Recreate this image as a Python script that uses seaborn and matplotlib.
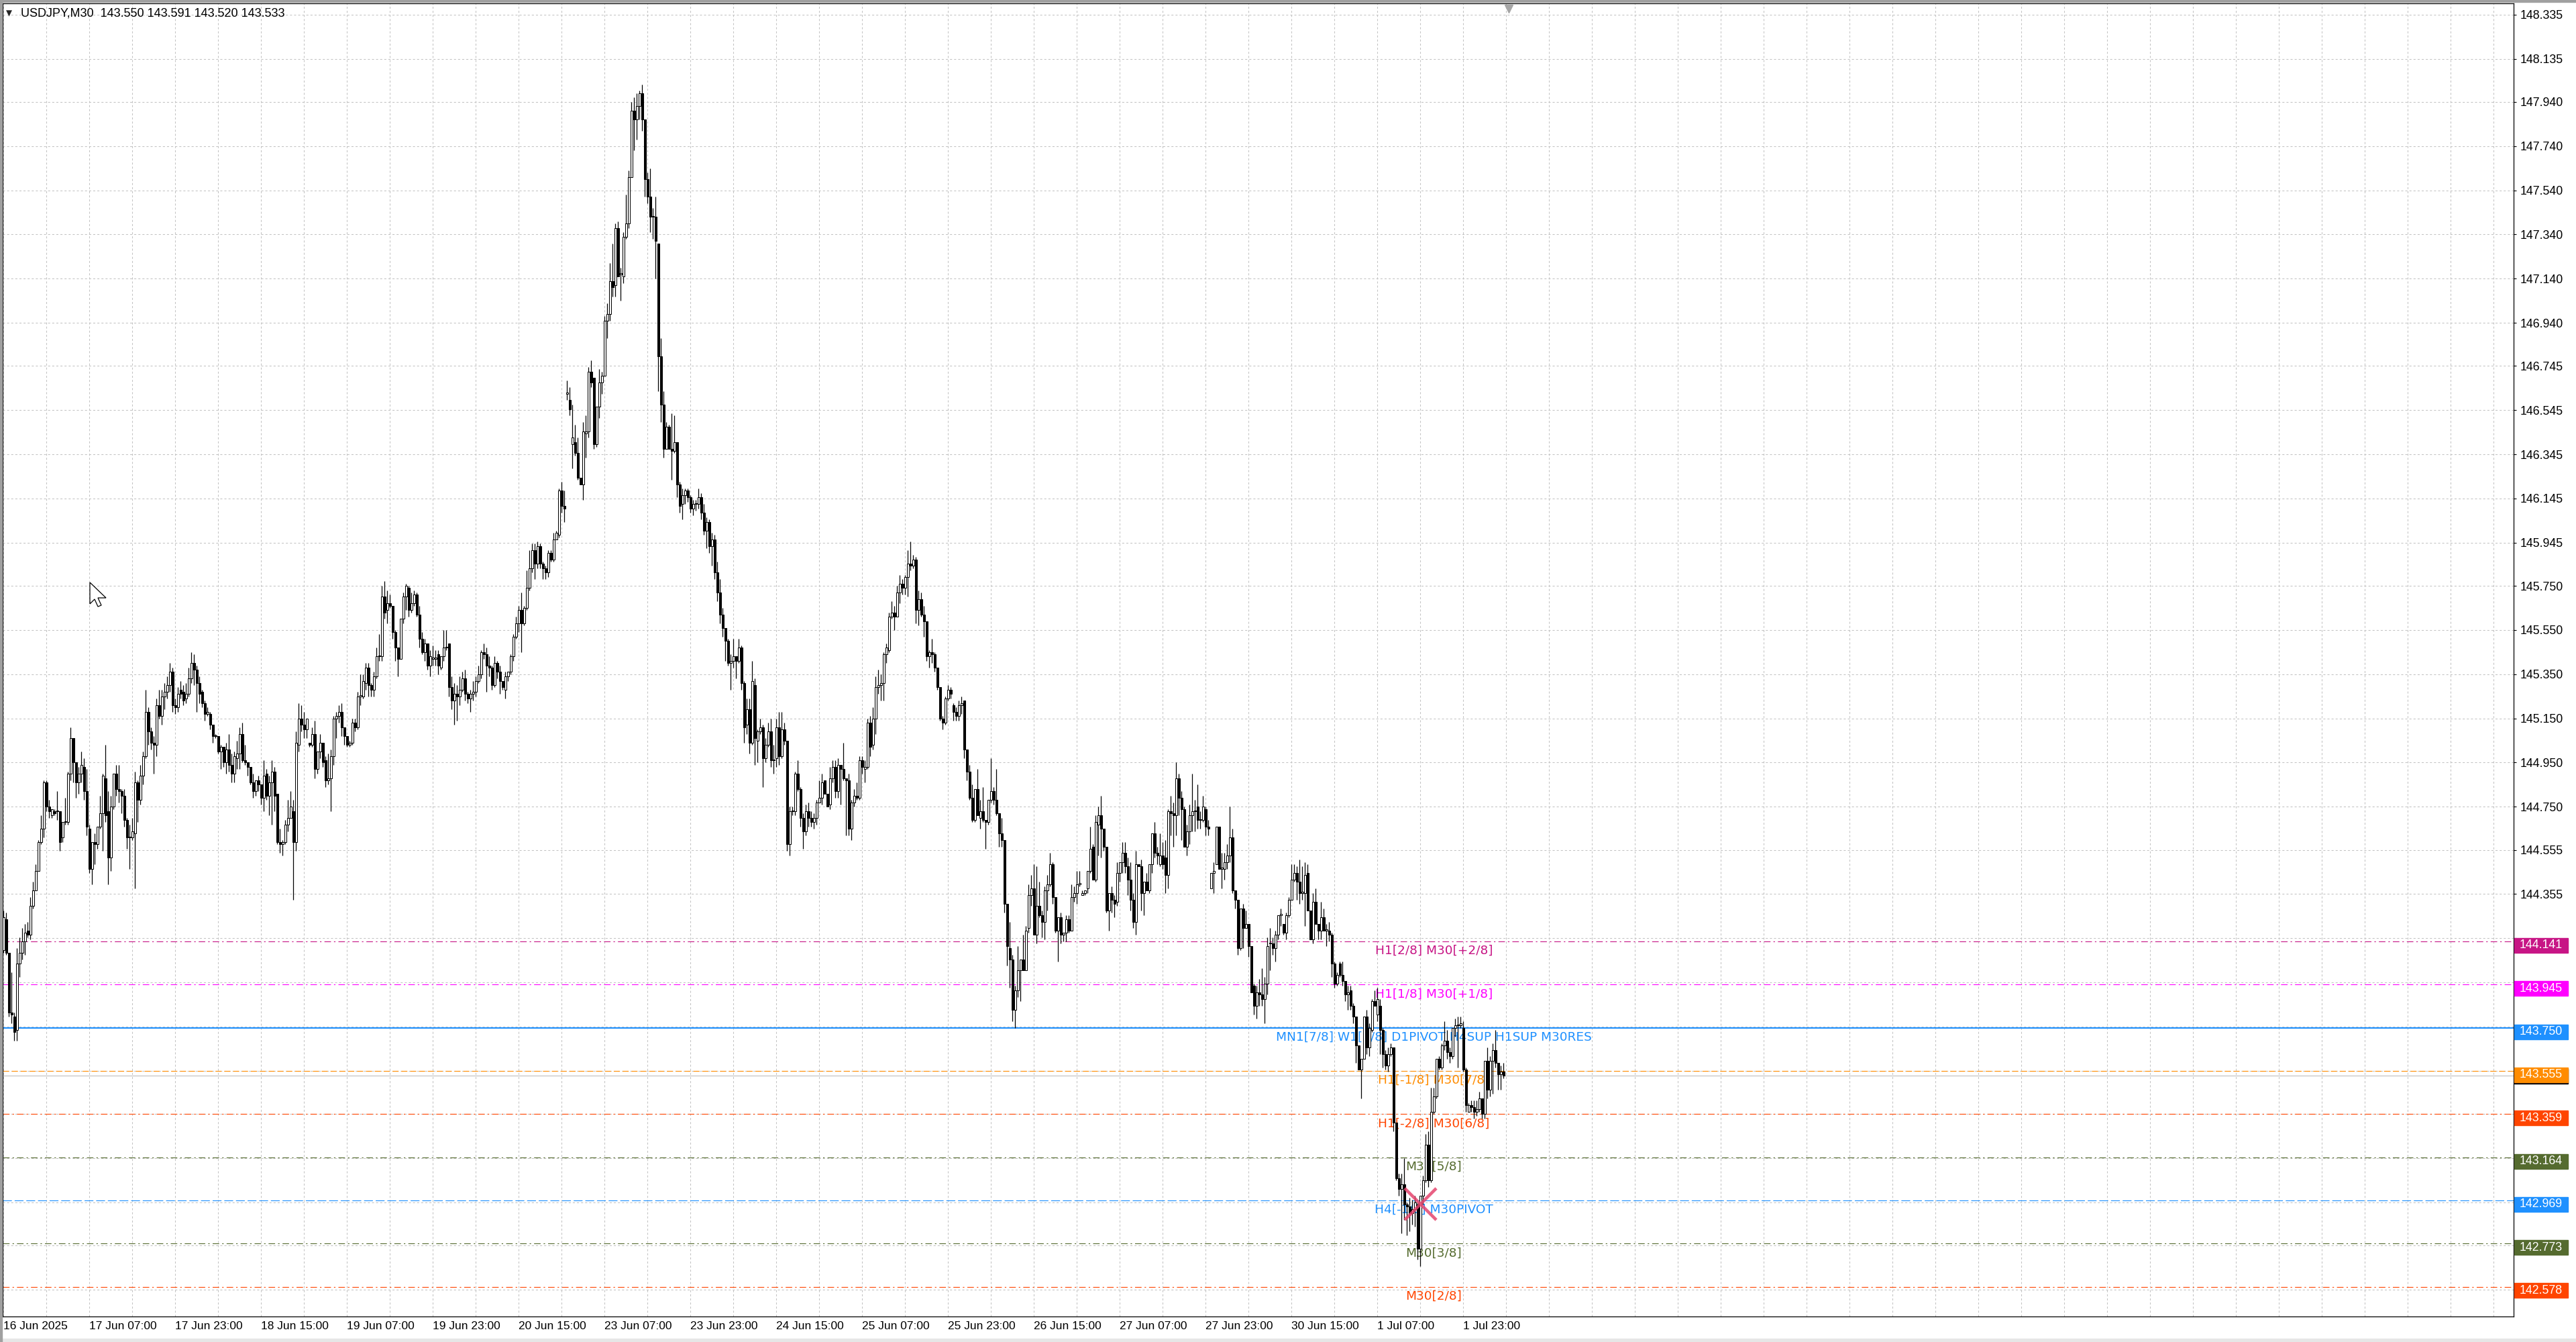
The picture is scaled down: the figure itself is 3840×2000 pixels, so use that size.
import numpy as np
import matplotlib
matplotlib.use("Agg")
import matplotlib.pyplot as plt
import matplotlib.transforms as mtransforms
from matplotlib.patches import Rectangle, Polygon
import seaborn as sns

# --- data: USDJPY M30 candles, prices stored as (price - 142.00) * 100 ---
base_price = 142.0

opens_txt = """
210 224 209 182 180 174 204 209 214 219 217 230 237 246 259 265 286 275 271 273
273 273 261 268 268 290 306 295 286 290 293 282 265 247 259 258 266 272 288 273
252 275 290 283 282 280 269 261 261 263 286 278 289 298 318 309 304 303 321 316
325 327 330 336 321 320 328 327 324 326 333 340 337 331 327 322 317 317 312 307
307 300 302 295 301 294 290 297 299 308 296 295 293 286 282 287 285 279 290 280
286 291 281 259 258 259 267 270 273 259 303 315 312 310 304 303 308 292 300 304
296 287 288 298 315 316 318 311 307 303 304 313 311 325 325 331 338 330 328 334
343 343 370 364 367 366 354 347 342 360 370 374 364 367 371 362 351 345 349 339
342 342 344 338 343 347 349 329 323 326 325 328 333 326 324 326 327 332 335 345
344 339 338 330 340 336 332 328 334 336 343 352 358 364 358 365 374 383 391 385
393 385 383 381 390 387 396 398 418 411 462 459 439 440 435 424 421 444 445 472
469 439 456 467 470 495 498 513 511 537 516 515 533 539 560 590 586 592 598 586
559 551 542 542 530 479 457 437 447 437 436 440 421 412 416 418 415 410 412 412
415 408 400 404 393 396 381 372 362 356 350 340 341 343 341 347 331 312 319 304
330 305 309 311 297 303 309 296 297 311 298 310 305 258 273 273 290 283 270 264
273 270 268 270 277 279 287 281 276 288 293 282 294 292 288 287 265 277 280 279
296 292 293 313 303 315 329 330 331 344 346 361 363 361 372 376 374 379 385 384
387 364 369 362 359 343 345 344 338 329 315 313 324 328 321 318 316 321 323 301
291 279 269 283 270 273 269 268 278 282 278 272 263 260 231 211 206 183 192 201
206 201 220 235 238 217 230 226 223 237 240 249 234 219 225 217 218 224 219 234
236 240 235 236 238 246 257 242 267 271 265 257 228 236 233 232 245 250 254 248
242 233 223 249 248 236 241 237 249 263 254 249 253 252 244 273 272 271 288 279
274 257 264 271 273 275 269 269 274 266 238 245 249 266 247 247 250 253 261 237
233 211 229 220 222 212 194 185 191 190 188 195 213 213 211 217 226 222 218 226
233 242 245 241 236 236 245 228 215 232 222 219 225 219 219 217 204 195 204 199
196 190 192 185 180 167 156 161 180 166 174 187 181 185 174 163 158 163 166 132
107 102 104 95 94 91 93 95 75 99 106 122 106 137 144 161 157 167 169 164
162 175 176 176 175 156 137 140 139 137 138 143 136 160 147 160 165 159 154 155
"""

highs_txt = """
228 227 209 200 182 211 216 220 222 223 234 241 249 260 271 287 287 278 274 274
282 273 268 279 291 311 306 295 293 300 297 292 267 259 263 266 280 290 303 282
280 290 294 294 283 283 270 267 270 291 287 294 300 328 320 311 307 324 328 328
331 334 340 338 324 329 332 330 331 338 345 344 339 334 328 323 320 318 312 308
307 303 302 304 308 299 300 305 311 313 303 295 293 290 287 289 285 296 292 289
296 293 281 265 260 269 278 282 278 309 322 321 318 315 304 311 314 300 308 304
298 299 301 316 318 321 322 311 307 305 315 315 327 335 335 340 340 331 336 347
353 375 377 373 371 366 355 347 360 372 376 375 372 373 372 366 354 351 349 346
348 346 346 343 355 355 349 334 331 330 334 336 337 327 328 332 334 339 346 349
347 343 339 343 341 339 332 336 336 344 353 361 366 372 366 382 391 394 394 395
394 386 384 391 391 399 400 419 422 418 468 465 457 448 442 424 449 452 474 477
469 456 473 472 497 503 521 530 539 540 519 535 552 563 594 596 598 599 602 586
562 564 546 551 530 487 463 449 448 453 452 440 422 419 419 419 416 414 414 419
417 412 406 405 399 398 386 378 365 356 351 344 351 343 351 348 332 324 324 341
333 310 315 312 306 313 315 303 315 318 318 313 305 275 275 291 296 284 272 276
277 273 272 278 287 290 287 281 293 296 296 297 294 304 288 290 278 283 286 298
298 296 315 316 320 334 337 335 345 349 363 368 366 375 380 378 380 391 395 389
388 373 372 366 359 346 351 345 338 329 316 325 330 329 322 320 323 325 323 301
294 285 283 292 278 284 269 278 297 284 292 272 270 260 231 223 208 194 212 206
217 221 240 244 249 248 241 228 239 244 254 250 234 225 227 218 226 226 240 239
246 246 237 237 246 266 258 271 275 280 265 257 236 239 235 250 250 259 259 252
250 236 255 249 251 241 245 249 263 268 257 263 259 260 274 280 277 295 290 282
275 267 276 290 278 285 273 280 275 269 245 250 266 266 254 254 258 275 265 237
233 229 231 228 222 212 195 194 197 202 198 216 220 216 219 226 229 222 227 234
249 249 248 251 248 250 249 228 236 238 222 232 229 222 223 218 205 200 205 205
196 194 194 186 180 167 161 180 183 177 188 192 193 188 175 165 166 168 166 132
109 109 116 96 98 97 99 96 99 108 127 128 148 148 161 162 168 178 174 166
175 179 180 180 178 157 141 142 142 142 146 143 160 166 162 168 174 159 158 159
"""

lows_txt = """
209 208 180 177 169 169 198 206 208 216 215 229 237 246 258 261 273 270 270 271
269 255 259 267 267 287 286 279 281 286 278 262 245 240 249 256 265 255 268 240
246 274 280 277 272 266 256 247 260 238 268 276 285 297 303 301 290 298 315 312
319 324 327 318 317 318 324 321 322 325 331 330 318 322 320 314 316 310 304 306
299 292 293 290 291 286 286 292 292 295 294 289 285 279 280 282 276 273 278 271
267 273 258 254 253 258 264 270 233 255 300 309 306 306 302 302 288 290 297 293
284 285 273 294 306 313 307 303 302 302 303 309 310 321 324 328 325 325 325 333
341 341 360 358 365 351 341 334 342 358 364 361 363 366 361 347 344 341 337 334
339 339 335 337 341 346 325 319 312 314 321 327 323 322 318 323 325 331 333 342
327 334 328 329 333 326 328 324 332 335 341 351 354 345 357 364 373 381 378 383
383 378 378 379 386 386 396 397 408 404 459 452 428 434 423 421 414 433 442 465
437 438 451 462 470 487 495 506 506 515 504 512 532 537 560 572 577 586 581 551
548 535 532 514 463 449 433 437 437 423 435 415 408 405 412 413 408 407 409 410
405 398 392 390 384 378 368 358 352 341 339 328 338 333 340 328 304 308 299 303
294 295 308 284 295 302 293 290 293 294 297 303 255 253 271 271 282 266 256 262
266 266 265 267 277 276 281 275 274 286 279 279 276 287 262 262 260 275 278 278
290 286 292 298 301 308 326 323 323 340 345 360 355 361 367 371 371 370 382 383
358 357 361 352 341 338 340 336 328 314 310 312 323 324 314 314 314 317 297 287
278 268 268 271 265 268 256 267 277 276 271 257 257 227 203 193 178 175 189 187
201 201 218 230 217 213 225 216 215 228 239 231 218 205 213 214 214 218 219 232
231 239 235 235 236 245 242 241 253 252 255 227 219 227 225 230 241 245 245 235
228 220 217 248 228 226 237 236 245 252 249 248 247 236 238 262 257 262 271 260
257 253 258 264 264 265 265 268 262 262 238 236 249 247 238 242 247 250 236 229
208 210 211 220 207 191 181 179 185 185 177 190 201 208 205 215 221 217 215 225
233 241 233 231 233 221 228 215 213 222 215 215 219 212 214 198 193 194 198 194
187 183 183 177 159 156 143 161 163 162 173 185 178 163 157 156 155 162 128 106
99 82 88 81 83 86 85 70 67 95 105 103 105 136 143 156 156 165 161 159
161 171 157 175 155 137 137 137 134 135 137 134 134 143 144 145 157 147 147 152
"""

closes_txt = """
225 209 182 181 173 204 209 214 218 217 230 237 246 259 265 286 275 273 274 272
273 259 268 268 290 306 295 286 290 294 282 266 247 259 258 266 272 289 271 252
275 290 283 282 280 269 261 261 264 286 278 289 298 318 309 304 303 321 316 325
327 330 336 321 320 326 326 323 326 333 340 337 331 326 322 317 318 312 307 307
300 302 295 301 294 290 298 299 308 296 295 293 286 282 287 285 279 289 280 286
291 280 259 258 259 267 270 275 259 304 315 312 310 315 303 308 292 300 304 295
287 288 298 315 316 318 311 307 303 304 313 311 325 325 332 338 330 328 334 343
343 370 363 367 366 354 347 342 360 370 375 364 367 371 362 351 345 349 339 343
342 342 339 343 347 347 329 323 326 325 328 333 326 324 326 327 332 335 345 344
339 338 330 340 336 332 329 334 336 343 352 358 364 358 365 374 383 391 385 393
385 383 381 390 387 396 399 418 411 410 462 455 442 435 424 421 445 445 472 467
439 456 467 470 495 498 513 510 537 515 516 533 539 560 590 586 592 598 586 559
551 542 542 531 479 457 437 447 437 436 440 421 411 416 418 415 410 412 412 415
408 400 404 393 396 381 372 362 356 350 340 341 343 341 347 331 311 319 304 332
306 309 311 297 303 309 296 296 311 298 310 305 258 273 273 290 283 270 264 273
270 268 270 277 279 286 281 275 288 293 282 294 292 288 287 265 277 280 279 296
293 293 313 302 315 329 330 331 344 347 361 363 361 372 376 374 379 385 384 387
364 369 362 359 343 345 344 338 329 315 313 324 328 326 318 316 321 322 301 291
279 269 283 271 273 269 268 278 282 278 272 263 260 231 212 206 183 192 201 206
201 219 235 238 217 230 226 223 237 240 249 234 219 225 217 218 224 219 234 236
240 240 236 237 246 256 242 268 271 265 257 228 236 233 231 245 250 254 248 242
233 223 249 248 236 241 237 249 263 254 253 253 249 244 273 272 271 288 279 274
257 264 271 273 273 269 269 275 266 265 245 246 266 247 247 250 253 261 237 233
211 229 220 222 212 191 185 191 190 188 195 212 213 211 217 226 226 218 226 233
242 245 241 236 236 244 228 215 232 222 219 225 219 219 217 204 195 199 199 196
190 191 185 180 167 156 161 180 166 175 187 185 188 174 163 158 163 166 132 107
102 104 95 94 91 93 96 75 99 106 122 106 137 144 161 157 167 169 164 162
175 176 176 177 156 140 140 139 137 138 143 136 160 147 160 165 159 154 155 153
"""

last_ohlc = [143.550, 143.591, 143.520, 143.533]
symbol = "USDJPY,M30"

time_labels = ["16 Jun 2025", "17 Jun 07:00", "17 Jun 23:00", "18 Jun 15:00",
               "19 Jun 07:00", "19 Jun 23:00", "20 Jun 15:00", "23 Jun 07:00",
               "23 Jun 23:00", "24 Jun 15:00", "25 Jun 07:00", "25 Jun 23:00",
               "26 Jun 15:00", "27 Jun 07:00", "27 Jun 23:00", "30 Jun 15:00",
               "1 Jul 07:00", "1 Jul 23:00"]
bars_per_label = 32

price_ticks = [148.335, 148.135, 147.940, 147.740, 147.540, 147.340, 147.140,
               146.940, 146.745, 146.545, 146.345, 146.145, 145.945, 145.750,
               145.550, 145.350, 145.150, 144.950, 144.750, 144.555, 144.355,
               144.155, 143.955, 143.755, 143.555, 143.360, 143.160, 142.960,
               142.765, 142.565]

level_prices = [144.141, 143.945, 143.750, 143.555, 143.359, 143.164, 142.969, 142.773, 142.578]
level_names = ["H1[2/8] M30[+2/8]", "H1[1/8] M30[+1/8]",
               "MN1[7/8] W1[2/8] D1PIVOT H4SUP H1SUP M30RES",
               "H1[-1/8] M30[7/8]", "H1[-2/8] M30[6/8]", "M30[5/8]",
               "H4[-1/8] M30PIVOT", "M30[3/8]", "M30[2/8]"]
level_colors = ["#C71585", "#FF00FF", "#1E90FF", "#FF8C00", "#FF4500",
                "#556B2F", "#1E90FF", "#556B2F", "#FF4500"]
level_kinds = ["dashdot", "dashdot", "solid", "dash", "dashdot",
               "dashdot", "longdash", "dashdot", "dashdot"]

bid_price = last_ohlc[3]
cross_bar, cross_price = 527.8, 142.953
label_bar = 533
shift_bar = 561


def parse(txt):
    return np.array([base_price + int(v) / 100 for v in txt.split()])


o = parse(opens_txt)
h = parse(highs_txt)
l = parse(lows_txt)
c = parse(closes_txt)
n = min(len(o), len(h), len(l), len(c))
o, h, l, c = o[:n], h[:n], l[:n], c[:n]
o[-1], h[-1], l[-1], c[-1] = last_ohlc
h = np.maximum.reduce([h, o, c])
l = np.minimum.reduce([l, o, c])
x = np.arange(n)

# --- style ---
sns.set_style("white")
plt.rcParams["font.family"] = ["Liberation Sans", "DejaVu Sans"]
plt.rcParams["lines.scale_dashes"] = False

W, H = 3840, 2000
fig = plt.figure(figsize=(W / 100, H / 100), dpi=100, facecolor="white")
ax_l, ax_r, ax_t, ax_b = 4, 3747, 5, 1962
ax = fig.add_axes([ax_l / W, 1 - ax_b / H, (ax_r - ax_l) / W, (ax_b - ax_t) / H])
ax.set_facecolor("white")

xlim = (-0.375, 935.4)
ylim = (142.443, 148.386)
ax.set_xlim(*xlim)
ax.set_ylim(*ylim)

grid_kw = dict(colors="#C3C3C3", linewidth=0.75, linestyles=(0, (2.2, 2.2)), zorder=1)
ax.hlines(price_ticks, xlim[0], xlim[1], **grid_kw)
ax.vlines(np.arange(0, 936, 16), ylim[0], ylim[1], **grid_kw)

# level lines + labels
dash_map = {"dashdot": (0, (7, 3.2, 1.6, 3.2)), "dash": (0, (6.5, 3)),
            "longdash": (0, (9.5, 3)), "solid": "-"}
for p, name, col, kind in zip(level_prices, level_names, level_colors, level_kinds):
    lw = 1.5 if kind == "solid" else 0.8
    ax.axhline(p, color=col, lw=lw, linestyle=dash_map[kind], zorder=2)
    ax.text(label_bar, p - 0.0425, name, color=col, fontsize=13.3, family="DejaVu Sans",
            ha="center", va="center", zorder=2.5)

ax.axhline(bid_price, color="#BDBDBD", lw=0.8, zorder=2)

# candles
up = c >= o
body_lo = np.minimum(o, c)
body_h = np.maximum(np.abs(c - o), 0.004)
ax.vlines(x, l, h, color="black", lw=0.9, zorder=4)
ax.bar(x[up], body_h[up], bottom=body_lo[up], width=0.6, color="white",
       edgecolor="black", linewidth=0.75, zorder=5)
ax.bar(x[~up], body_h[~up], bottom=body_lo[~up], width=0.6, color="black",
       edgecolor="black", linewidth=0.75, zorder=5)

sns.scatterplot(x=[cross_bar], y=[cross_price], marker="x", s=1150, color="#E5446D",
                linewidth=3.3, alpha=0.85, zorder=8, ax=ax, legend=False)

# axes
for sp in ax.spines.values():
    sp.set_color("black")
    sp.set_linewidth(0.9)
ax.yaxis.tick_right()
ax.set_yticks(price_ticks)
# the level boxes on the scale cover the labels below 144.2
ax.set_yticklabels([f"{v:.3f}" if v > 144.2 else "" for v in price_ticks])
ax.tick_params(axis="y", length=3, width=0.8, pad=4, labelsize=12.8, right=True,
               left=False, colors="black")
tick_bars = np.arange(len(time_labels)) * bars_per_label
ax.set_xticks(tick_bars)
ax.set_xticklabels(time_labels, ha="left")
ax.tick_params(axis="x", length=3.5, width=0.8, pad=1.5, labelsize=12.5, colors="black")
ax.set_xlabel("")
ax.set_ylabel("")

# price boxes on the right scale
tr = mtransforms.blended_transform_factory(fig.transFigure, ax.transData)
box_h = 22 / 329.3
for p, col in zip(level_prices, level_colors):
    yc = p - 0.018
    if abs(p - 143.555) < 1e-6:
        fig.patches.append(Rectangle((3748 / W, yc - box_h / 2 - 0.007), 80 / W, box_h,
                                     transform=tr, color="black", zorder=9))
    fig.patches.append(Rectangle((3748 / W, yc - box_h / 2), 80 / W, box_h,
                                 transform=tr, color=col, zorder=10))
    fig.text(3756 / W, yc, f"{p:.3f}", transform=tr, color="white", fontsize=12.8,
             ha="left", va="center", zorder=11)

# chart shift marker
ax.plot([shift_bar], [0.996], marker="v", markersize=8, color="#A6A6A6",
        transform=mtransforms.blended_transform_factory(ax.transData, ax.transAxes),
        clip_on=False, zorder=12)

# mouse pointer left on the chart (pixel outline)
cursor_tip = (134, 868)
cursor_shape = [(0, 0), (0, 32), (7, 25), (12, 36), (17, 34), (12, 23), (24, 23)]
fig.patches.append(Polygon([((cursor_tip[0] + dx) / W, 1 - (cursor_tip[1] + dy) / H)
                            for dx, dy in cursor_shape], closed=True,
                           transform=fig.transFigure, facecolor="white",
                           edgecolor="black", linewidth=0.9, zorder=20))

# header
fig.text(9 / W, 1 - 20 / H, "▼", family="DejaVu Sans", fontsize=8.5, va="center", ha="left")
fig.text(31 / W, 1 - 20 / H, f"{symbol}  " + " ".join(f"{v:.3f}" for v in last_ohlc),
         fontsize=13, va="center", ha="left", color="black")

# window frame strips
fig.patches.append(Rectangle((0, 1 - 3 / H), 1, 3 / H, transform=fig.transFigure,
                             color="#A0A0A0", zorder=0))
fig.patches.append(Rectangle((0, 0), 1, 5 / H, transform=fig.transFigure,
                             color="#E6E6E6", zorder=0))
fig.patches.append(Rectangle((0, 0), 3 / W, 1, transform=fig.transFigure,
                             color="#A0A0A0", zorder=0))

fig.savefig("out.png", dpi=100, facecolor="white")
